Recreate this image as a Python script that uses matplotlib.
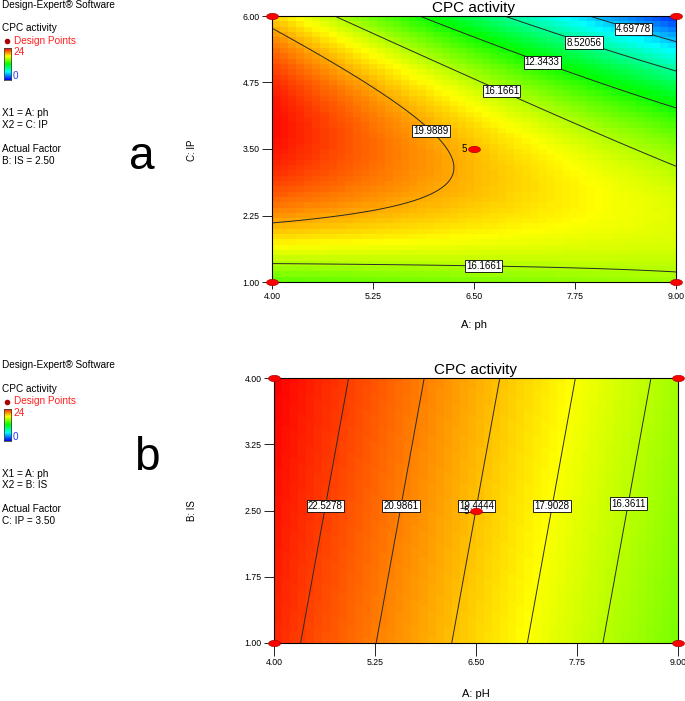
import numpy as np
import matplotlib
matplotlib.use("Agg")
import matplotlib.pyplot as plt
from matplotlib.colors import LinearSegmentedColormap
from matplotlib.path import Path

plt.rcParams['font.family'] = ['Liberation Sans', 'DejaVu Sans']

# ---------------- data ----------------
# factor ranges (actual units)
ph_range = [4.0, 9.0]      # A: ph
is_range = [1.0, 4.0]      # B: IS
ip_range = [1.0, 6.0]      # C: IP

# quadratic response-surface model (coded units)
model_terms = ['I', 'A', 'B', 'C', 'AB', 'AC', 'BC', 'A2', 'B2', 'C2']
model_coefs = [19.44, -4.12, 0.49, -2.48, 0.0, -4.97, 0.0, 0.0, 0.0, -7.07]

# contour levels shown
levels_a = [4.69778, 8.52056, 12.3433, 16.1661, 19.9889]
levels_b = [16.3611, 17.9028, 19.4444, 20.9861, 22.5278]

# tick labels
ph_ticks = [4.00, 5.25, 6.50, 7.75, 9.00]
ip_ticks = [1.00, 2.25, 3.50, 4.75, 6.00]
is_ticks = [1.00, 1.75, 2.50, 3.25, 4.00]

# design points
dp_a_ph = [4.0, 9.0, 4.0, 9.0, 6.5]
dp_a_ip = [1.0, 1.0, 6.0, 6.0, 3.5]
dp_b_ph = [4.0, 9.0, 4.0, 9.0, 6.5]
dp_b_is = [1.0, 1.0, 4.0, 4.0, 2.5]
center_count = "5"

# contour label anchor positions
lab_a = [(8.49, 5.84), (7.88, 5.59), (7.36, 5.20), (6.86, 4.65), (6.0, 3.89), (6.62, 1.42)]
lab_b = [(4.63, 2.55), (5.56, 2.55), (6.50, 2.55), (7.43, 2.55), (8.37, 2.58)]

# ---------------- helpers ----------------
coef = dict(zip(model_terms, model_coefs))

def code(v, rng):
    return (np.asarray(v) - (rng[0] + rng[1]) / 2) / ((rng[1] - rng[0]) / 2)

def response(A, B, C):
    a, b, c = code(A, ph_range), code(B, is_range), code(C, ip_range)
    return (coef['I'] + coef['A'] * a + coef['B'] * b + coef['C'] * c
            + coef['AB'] * a * b + coef['AC'] * a * c + coef['BC'] * b * c
            + coef['A2'] * a ** 2 + coef['B2'] * b ** 2 + coef['C2'] * c ** 2)

cmap = LinearSegmentedColormap.from_list(
    'de', [(0, '#0000ff'), (0.25, '#00ffff'), (0.5, '#00ff00'),
           (0.75, '#ffff00'), (1.0, '#ff0000')])

theta = np.linspace(0, 2 * np.pi, 41)
ellipse = Path(np.column_stack([1.9 * np.cos(theta), np.sin(theta)]))

W, H = 685, 701
fig = plt.figure(figsize=(W / 100, H / 100), dpi=100)

def fx(x):
    return x / W

def fy(y):
    return 1 - y / H


def panel(rect, xr, yr, yticks, fixed, levels, labpos, dpx, dpy, xlabel, ylabel,
          ylab_pos, xlab_y, xtick_len):
    ax = fig.add_axes(rect)
    nx, ny = 50, 50
    xe = np.linspace(xr[0], xr[1], nx + 1)
    ye = np.linspace(yr[0], yr[1], ny + 1)
    xc = (xe[:-1] + xe[1:]) / 2
    yc = (ye[:-1] + ye[1:]) / 2
    Xc, Yc = np.meshgrid(xc, yc)
    Zc = fixed(Xc, Yc)
    ax.pcolormesh(xe, ye, Zc, cmap=cmap, vmin=0, vmax=24, shading='flat')
    xf = np.linspace(xr[0], xr[1], 300)
    yf = np.linspace(yr[0], yr[1], 300)
    Xf, Yf = np.meshgrid(xf, yf)
    Zf = fixed(Xf, Yf)
    cs = ax.contour(Xf, Yf, Zf, levels=levels, colors='#2a2a2a', linewidths=0.7)
    fmt = {lv: ('%g' % lv) for lv in levels}
    txts = ax.clabel(cs, levels, inline=False, fontsize=7, fmt=fmt, manual=labpos,
                     colors='black')
    for t in txts:
        t.set_rotation(0)
        t.set_bbox(dict(boxstyle='square,pad=0.12', fc='white', ec='black', lw=0.6))
        t.set_zorder(5)
    ax.plot(dpx, dpy, linestyle='none', marker=ellipse, markersize=8.5,
            markerfacecolor='#ff0000', markeredgecolor='#aa0000', markeredgewidth=0.5,
            clip_on=False, zorder=10)
    ax.text(dpx[-1] - 0.09, dpy[-1], center_count, fontsize=7, ha='right', va='center',
            zorder=11)
    ax.set_xlim(xr)
    ax.set_ylim(yr)
    ax.set_xticks(ph_ticks)
    ax.set_xticklabels(['%.2f' % v for v in ph_ticks])
    ax.set_yticks(yticks)
    ax.set_yticklabels(['%.2f' % v for v in yticks])
    ax.tick_params(axis='y', length=7, width=0.6, labelsize=6.3, pad=2)
    ax.tick_params(axis='x', length=xtick_len, width=0.6, labelsize=6.3, pad=2)
    for s in ax.spines.values():
        s.set_linewidth(0.8)
    ax.set_title('CPC activity', fontsize=11, pad=3)
    fig.text(fx(ylab_pos[0]), fy(ylab_pos[1]), ylabel, rotation=90, fontsize=7,
             ha='center', va='center')
    fig.text(fx((rect[0] + rect[2] / 2) * W), fy(xlab_y), xlabel, fontsize=8,
             ha='center', va='center')
    return ax


def side_text(y0, lines, actual, letter, letter_y):
    fs = 7.2
    fig.text(fx(2), fy(y0 + 4.5), 'Design-Expert\u00ae Software', fontsize=fs, va='center')
    fig.text(fx(2), fy(y0 + 28), 'CPC activity', fontsize=fs, va='center')
    fig.text(fx(14), fy(y0 + 40.5), 'Design Points', fontsize=fs, va='center', color='#ff2020')
    fig.lines.append(plt.Line2D([fx(6.5)], [fy(y0 + 40.5)], marker='o', markersize=3,
                                color='#aa0000', transform=fig.transFigure))
    cax = fig.add_axes([fx(3.5), fy(y0 + 80), 7.5 / W, 32 / H])
    grad = np.linspace(0, 24, 100).reshape(-1, 1)
    cax.imshow(grad, aspect='auto', cmap=cmap, vmin=0, vmax=24, origin='lower')
    cax.set_xticks([])
    cax.set_yticks([])
    for s in cax.spines.values():
        s.set_linewidth(0.6)
        s.set_color('#444444')
    fig.text(fx(13), fy(y0 + 52), '24', fontsize=fs, va='center', color='#ff2020')
    fig.text(fx(13), fy(y0 + 76), '0', fontsize=fs, va='center', color='#2040ff')
    fig.text(fx(2), fy(y0 + 113), lines[0], fontsize=fs, va='center')
    fig.text(fx(2), fy(y0 + 124.5), lines[1], fontsize=fs, va='center')
    fig.text(fx(2), fy(y0 + 148.5), 'Actual Factor', fontsize=fs, va='center')
    fig.text(fx(2), fy(y0 + 160.5), actual, fontsize=fs, va='center')
    fig.text(fx(letter[1]), fy(letter_y), letter[0], fontsize=33, ha='center', va='center')


# panel a: A vs C at B = 2.50
panel([fx(272), fy(282), 404 / W, 266 / H], ph_range, ip_range, ip_ticks,
      lambda X, Y: response(X, 2.5, Y), levels_a, lab_a, dp_a_ph, dp_a_ip,
      'A: ph', 'C: IP', (192, 150), 325, 5)
side_text(0, ['X1 = A: ph', 'X2 = C: IP'], 'B: IS = 2.50', ('a', 142), 157)

# panel b: A vs B at C = 3.50
panel([fx(274), fy(643), 404 / W, 265 / H], ph_range, is_range, is_ticks,
      lambda X, Y: response(X, Y, 3.5), levels_b, lab_b, dp_b_ph, dp_b_is,
      'A: pH', 'B: IS', (192, 511), 694, 9)
side_text(361, ['X1 = A: ph', 'X2 = B: IS'], 'C: IP = 3.50', ('b', 147), 458)

fig.savefig('out.png', dpi=100)
